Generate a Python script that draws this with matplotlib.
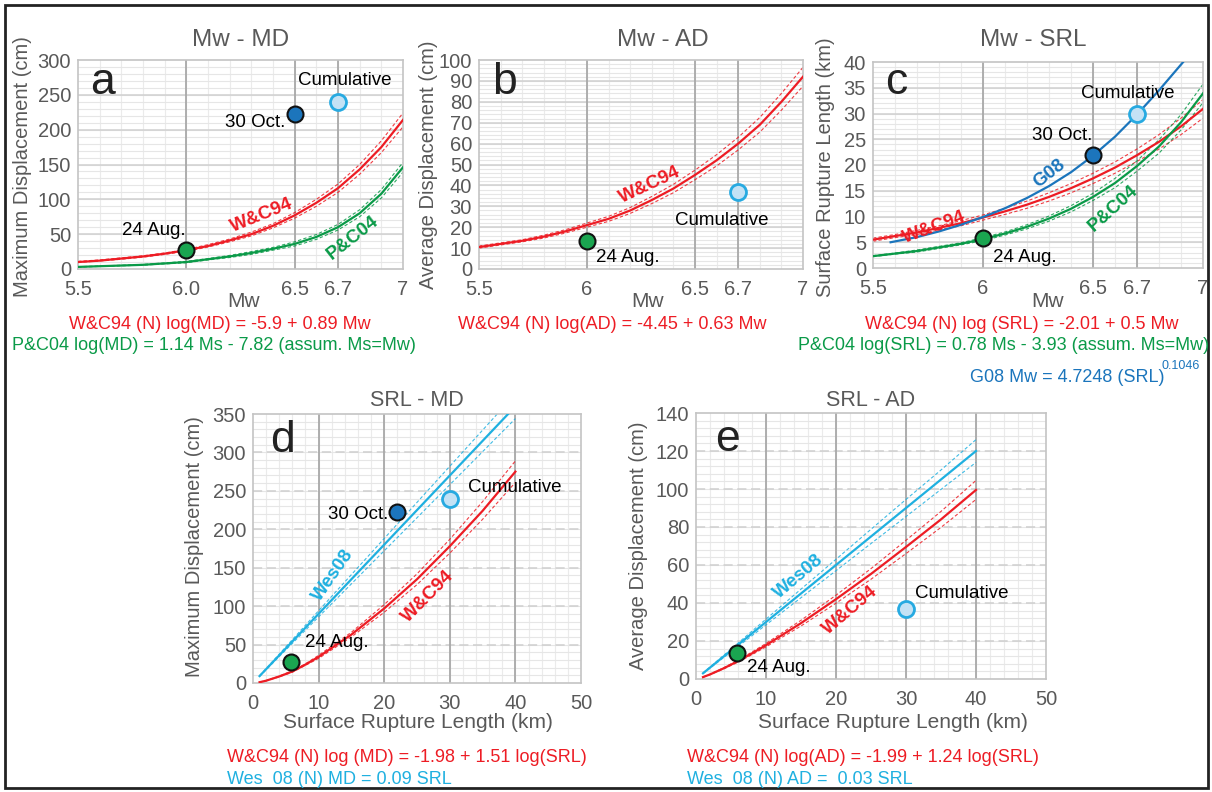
import matplotlib
matplotlib.use('Agg')
import matplotlib.pyplot as plt
import numpy as np
from matplotlib.patches import Rectangle

plt.rcParams['font.family'] = ['Liberation Sans', 'DejaVu Sans']

W, H = 1212, 792

# ---------------- datos ----------------
mw = [5.5, 5.6, 5.7, 5.8, 5.9, 6.0, 6.1, 6.2, 6.3, 6.4, 6.5, 6.6, 6.7, 6.8, 6.9, 7.0]
mw_ticks = [5.5, 6.0, 6.5, 6.7, 7.0]

# a) Mw - MD (cm)
a_wc94 = [10, 12, 15, 18, 22, 27, 33, 41, 50, 62, 77, 95, 116, 143, 175, 214]
a_wc94_hi = [11, 13, 16, 19, 23, 28, 35, 43, 53, 65, 81, 100, 122, 150, 184, 224]
a_wc94_lo = [9.5, 11.5, 14, 17, 21, 25.5, 31.5, 39, 47.5, 59, 73, 90, 110, 136, 167, 204]
a_pc04 = [3, 4, 5, 6, 8, 10, 14, 18, 23, 29, 36, 46, 60, 80, 108, 146]
a_pc04_hi = [3.3, 4.3, 5.4, 6.6, 8.7, 11, 15, 19.5, 25, 31, 39, 49.5, 64, 85, 114, 153]
a_pc04_lo = [2.7, 3.7, 4.6, 5.5, 7.3, 9, 13, 16.5, 21, 27, 33, 42.5, 56, 75, 102, 139]

# b) Mw - AD (cm)
b_wc94 = [10.5, 12, 13.5, 15.5, 18, 21, 24, 28, 33, 38.5, 45, 52, 60, 69, 80, 92]
b_wc94_hi = [11, 12.5, 14, 16.2, 18.8, 22, 25.2, 29.4, 34.7, 40.5, 47.3, 54.7, 63, 72.5, 84, 96.5]
b_wc94_lo = [10, 11.5, 13, 14.8, 17.2, 20, 22.8, 26.6, 31.3, 36.5, 42.7, 49.3, 57, 65.5, 76, 87.5]

# c) Mw - SRL (km)
c_wc94 = [5.5, 6.2, 6.9, 7.8, 8.7, 9.8, 11.0, 12.3, 13.8, 15.5, 17.4, 19.5, 21.9, 24.5, 27.5, 30.9]
c_wc94_hi = [5.8, 6.5, 7.3, 8.2, 9.2, 10.3, 11.6, 13.0, 14.6, 16.4, 18.4, 20.6, 23.1, 25.9, 29.1, 32.7]
c_wc94_lo = [5.2, 5.9, 6.5, 7.4, 8.2, 9.3, 10.4, 11.6, 13.0, 14.6, 16.4, 18.4, 20.7, 23.1, 25.9, 29.1]
c_pc04 = [2.3, 2.8, 3.3, 4.0, 4.7, 5.6, 6.7, 8.0, 9.6, 11.5, 13.8, 16.5, 19.8, 23.6, 28.3, 33.9]
c_pc04_hi = [2.4, 2.9, 3.5, 4.2, 4.9, 5.9, 7.0, 8.4, 10.1, 12.1, 14.5, 17.4, 20.8, 24.9, 29.8, 35.7]
c_pc04_lo = [2.2, 2.7, 3.1, 3.8, 4.5, 5.3, 6.4, 7.6, 9.1, 10.9, 13.1, 15.6, 18.8, 22.3, 26.8, 32.1]
g08_mw = [5.58, 5.7, 5.8, 5.9, 6.0, 6.1, 6.2, 6.3, 6.4, 6.5, 6.6, 6.7, 6.8, 6.91]
g08_srl = [5.0, 6.0, 7.1, 8.4, 9.9, 11.6, 13.6, 15.9, 18.6, 21.8, 25.5, 29.8, 34.5, 40.0]

# d) SRL - MD (cm) y e) SRL - AD (cm)
srl = [1, 2, 4, 6, 8, 10, 15, 20, 25, 30, 35, 40]
d_wc94 = [1, 3, 8.5, 15, 24, 34, 63, 97, 135, 178, 224, 275]
d_wc94_hi = [1.1, 3.2, 9, 16, 25, 36, 66, 102, 142, 187, 236, 289]
d_wc94_lo = [0.9, 2.8, 8, 14, 23, 32, 60, 92, 128, 169, 213, 261]
wes_srl = [1, 5, 10, 15, 20, 25, 30, 35, 39]
wes_srl_b = [1, 5, 10, 15, 20, 25, 30, 35, 40]
d_wes = [9, 45, 90, 135, 180, 225, 270, 315, 351]
d_wes_hi = [9.4, 47, 94, 141, 188, 235, 282, 329, 376]
d_wes_lo = [8.6, 43, 86, 129, 172, 215, 258, 301, 344]

e_wc94 = [1.0, 2.4, 5.7, 9.4, 13.5, 17.8, 29.4, 42, 55.3, 69.5, 84, 99.5]
e_wc94_hi = [1.05, 2.5, 6.0, 9.9, 14.2, 18.7, 30.9, 44.1, 58.1, 73, 88.2, 104.5]
e_wc94_lo = [0.95, 2.3, 5.4, 8.9, 12.8, 16.9, 27.9, 39.9, 52.5, 66, 79.8, 94.5]
e_wes = [3, 15, 30, 45, 60, 75, 90, 105, 120]
e_wes_hi = [3.15, 15.75, 31.5, 47.3, 63, 78.8, 94.5, 110, 126]
e_wes_lo = [2.85, 14.25, 28.5, 42.8, 57, 71.3, 85.5, 99.8, 114]

# eventos
eventos = ['24 Aug.', '30 Oct.', 'Cumulative']
ev_mw = [6.0, 6.5, 6.7]
ev_md = [27, 222, 240]
ev_ad = [13.5, np.nan, 37]
ev_srl = [5.8, 22, 30]

# ---------------- estilos ----------------
ROJO = '#ed1c24'
VERDE = '#0a9a48'
AZUL = '#1b75bc'
CIAN = '#1fb0e0'
GRIS = '#595959'
ev_fill = ['#1aa550', '#1c75bc', '#c4e2f5']
ev_edge = ['#111111', '#111111', '#27aae1']
ev_lw = [1.5, 1.5, 2.0]
TS = 14.5  # tamaño de los ticks
AS = 13.5  # anotaciones


def px_axes(l, r, t, b):
    return [l / W, 1 - b / H, (r - l) / W, (b - t) / H]


def ftext(x, y, s, **kw):
    kw.setdefault('ha', 'center')
    kw.setdefault('va', 'center')
    return fig.text(x / W, 1 - y / H, s, **kw)


def base(ax, xlim, ylim, xmaj, xmin, ymaj, ymin, xlab, mw_style=True):
    ax.set_xlim(*xlim)
    ax.set_ylim(*ylim)
    ax.set_facecolor('white')
    for x in xmin:
        ax.axvline(x, color='#ebebeb', lw=0.8, zorder=0)
    for y in ymin:
        ax.axhline(y, color='#e6e6e6', lw=0.8, zorder=0)
    for y in ymaj[1:-1]:
        if mw_style:
            ax.axhline(y, color='#d0d0d0', lw=1.1, zorder=0.5)
        else:
            ax.axhline(y, color='#cfcfcf', lw=1.1, ls=(0, (6, 3)), zorder=0.5)
    for x in xmaj[1:-1]:
        ax.axvline(x, color='#a8a8a8', lw=1.3, zorder=0.6)
    ax.set_xticks(xmaj)
    ax.set_xticklabels(xlab)
    ax.set_yticks(ymaj)
    ax.tick_params(length=0, labelsize=TS, colors=GRIS, pad=5)
    ax.tick_params(axis='x', pad=8)
    for s in ax.spines.values():
        s.set_color('#c4c4c4')
        s.set_linewidth(1.2)


def curva(ax, x, y, hi, lo, color):
    ax.plot(x, y, color=color, lw=1.6, zorder=3)
    ax.plot(x, hi, color=color, lw=0.8, ls=(0, (3, 2)), alpha=0.85, zorder=2.5)
    ax.plot(x, lo, color=color, lw=0.8, ls=(0, (3, 2)), alpha=0.85, zorder=2.5)


def puntos(ax, xs, ys):
    for i in range(len(xs)):
        if np.isnan(ys[i]):
            continue
        ax.plot(xs[i], ys[i], 'o', ms=11.5, mfc=ev_fill[i], mec=ev_edge[i],
                mew=ev_lw[i], zorder=6, clip_on=False)


fig = plt.figure(figsize=(W / 100, H / 100), dpi=100)
fig.patches.append(Rectangle((5 / W, 4 / H), 1203 / W, 783 / H, transform=fig.transFigure,
                             fill=False, ec='#222222', lw=2))

mw_min = [round(5.5 + 0.1 * i, 2) for i in range(1, 15)]

# ---- a ----
ax = fig.add_axes(px_axes(78, 403, 60, 269))
base(ax, (5.5, 7), (0, 300), mw_ticks, mw_min, list(range(0, 301, 50)),
     list(range(10, 300, 10)), ['5.5', '6.0', '6.5', '6.7', '7'])
curva(ax, mw, a_wc94, a_wc94_hi, a_wc94_lo, ROJO)
curva(ax, mw, a_pc04, a_pc04_hi, a_pc04_lo, VERDE)
puntos(ax, ev_mw, ev_md)
ax.text(5.555, 268, 'a', fontsize=32, va='center', ha='left', color='#222222')
ax.text(5.85, 55, eventos[0], fontsize=AS, ha='center', va='center')
ax.text(6.455, 211, eventos[1], fontsize=AS, ha='right', va='center')
ax.text(6.73, 270, eventos[2], fontsize=AS, ha='center', va='center')
ax.text(6.35, 77, 'W&C94', fontsize=AS, fontweight='bold', color=ROJO,
        rotation=22, ha='center', va='center')
ax.text(6.77, 44, 'P&C04', fontsize=AS, fontweight='bold', color=VERDE,
        rotation=38, ha='center', va='center')

# ---- b ----
ax = fig.add_axes(px_axes(479, 803, 60, 269))
base(ax, (5.5, 7), (0, 100), mw_ticks, mw_min, list(range(0, 101, 10)),
     list(range(2, 100, 2)), ['5.5', '6', '6.5', '6.7', '7'])
curva(ax, mw, b_wc94, b_wc94_hi, b_wc94_lo, ROJO)
puntos(ax, ev_mw, ev_ad)
ax.text(5.56, 89, 'b', fontsize=32, va='center', ha='left', color='#222222')
ax.text(6.19, 5.7, eventos[0], fontsize=AS, ha='center', va='center')
ax.text(6.625, 23, eventos[2], fontsize=AS, ha='center', va='center')
ax.text(6.29, 40, 'W&C94', fontsize=AS, fontweight='bold', color=ROJO,
        rotation=25, ha='center', va='center')

# ---- c ----
ax = fig.add_axes(px_axes(873, 1203, 62, 268))
base(ax, (5.5, 7), (0, 40), mw_ticks, mw_min, list(range(0, 41, 5)),
     list(range(1, 40, 1)), ['5.5', '6', '6.5', '6.7', '7'])
curva(ax, mw, c_wc94, c_wc94_hi, c_wc94_lo, ROJO)
curva(ax, mw, c_pc04, c_pc04_hi, c_pc04_lo, VERDE)
ax.plot(g08_mw, g08_srl, color=AZUL, lw=1.6, zorder=3)
puntos(ax, ev_mw, ev_srl)
ax.text(5.555, 36, 'c', fontsize=32, va='center', ha='left', color='#222222')
ax.text(6.19, 2.1, eventos[0], fontsize=AS, ha='center', va='center')
ax.text(6.36, 25.8, eventos[1], fontsize=AS, ha='center', va='center')
ax.text(6.66, 33.8, eventos[2], fontsize=AS, ha='center', va='center')
ax.text(5.78, 7.8, 'W&C94', fontsize=AS, fontweight='bold', color=ROJO,
        rotation=20, ha='center', va='center')
ax.text(6.30, 18.4, 'G08', fontsize=AS, fontweight='bold', color=AZUL,
        rotation=38, ha='center', va='center')
ax.text(6.59, 11.6, 'P&C04', fontsize=AS, fontweight='bold', color=VERDE,
        rotation=42, ha='center', va='center')

# ---- d ----
ax = fig.add_axes(px_axes(253, 581, 414, 683))
base(ax, (0, 50), (0, 350), list(range(0, 51, 10)), list(range(2, 50, 2)),
     list(range(0, 351, 50)), list(range(10, 350, 10)),
     [str(v) for v in range(0, 51, 10)], mw_style=False)
curva(ax, srl, d_wc94, d_wc94_hi, d_wc94_lo, ROJO)
ax.plot(wes_srl, d_wes, color=CIAN, lw=1.6, zorder=3)
ax.plot(wes_srl_b, d_wes_hi, color=CIAN, lw=0.8, ls=(0, (3, 2)), alpha=0.85, zorder=2.5)
ax.plot(wes_srl_b, d_wes_lo, color=CIAN, lw=0.8, ls=(0, (3, 2)), alpha=0.85, zorder=2.5)
puntos(ax, ev_srl, ev_md)
ax.text(2.6, 316, 'd', fontsize=32, va='center', ha='left', color='#222222')
ax.text(12.8, 53, eventos[0], fontsize=AS, ha='center', va='center')
ax.text(20.6, 219, eventos[1], fontsize=AS, ha='right', va='center')
ax.text(39.9, 254, eventos[2], fontsize=AS, ha='center', va='center')
ax.text(12.2, 140, 'Wes08', fontsize=AS, fontweight='bold', color=CIAN,
        rotation=55, ha='center', va='center')
ax.text(26.7, 112, 'W&C94', fontsize=AS, fontweight='bold', color=ROJO,
        rotation=45, ha='center', va='center')

# ---- e ----
ax = fig.add_axes(px_axes(696, 1046, 413, 679))
base(ax, (0, 50), (0, 140), list(range(0, 51, 10)), list(range(2, 50, 2)),
     list(range(0, 141, 20)), list(range(4, 140, 4)),
     [str(v) for v in range(0, 51, 10)], mw_style=False)
curva(ax, srl, e_wc94, e_wc94_hi, e_wc94_lo, ROJO)
curva(ax, wes_srl_b, e_wes, e_wes_hi, e_wes_lo, CIAN)
puntos(ax, ev_srl, ev_ad)
ax.text(2.7, 126, 'e', fontsize=32, va='center', ha='left', color='#222222')
ax.text(11.9, 5.8, eventos[0], fontsize=AS, ha='center', va='center')
ax.text(37.9, 45, eventos[2], fontsize=AS, ha='center', va='center')
ax.text(14.6, 54, 'Wes08', fontsize=AS, fontweight='bold', color=CIAN,
        rotation=40, ha='center', va='center')
ax.text(22, 36, 'W&C94', fontsize=AS, fontweight='bold', color=ROJO,
        rotation=40, ha='center', va='center')

# ---- títulos y etiquetas ----
for x, y, s, fs in [(241, 40, 'Mw - MD', 17.5), (663, 40, 'Mw - AD', 17.5),
                    (1033, 40, 'Mw - SRL', 17.5), (417, 400, 'SRL - MD', 15.5),
                    (871, 400, 'SRL - AD', 15.5)]:
    ftext(x, y, s, fontsize=fs, color=GRIS)

for x, y, s in [(23, 167, 'Maximum Displacement (cm)'), (428, 165, 'Average Displacement (cm)'),
                (825, 167, 'Surface Rupture Length (km)'), (195, 547, 'Maximum Displacement (cm)'),
                (638, 546, 'Average Displacement (cm)')]:
    ftext(x, y, s, fontsize=14.5, color=GRIS, rotation=90)

for x, y, s in [(244, 302, 'Mw'), (648, 302, 'Mw'), (1048, 302, 'Mw'),
                (418, 723, 'Surface Rupture Length (km)'), (893, 723, 'Surface Rupture Length (km)')]:
    ftext(x, y, s, fontsize=15, color=GRIS)

FS = 13
ftext(220, 324, 'W&C94 (N) log(MD) = -5.9 + 0.89 Mw', fontsize=FS, color=ROJO)
ftext(214, 346, 'P&C04 log(MD) = 1.14 Ms - 7.82 (assum. Ms=Mw)', fontsize=FS, color=VERDE)
ftext(612, 324, 'W&C94 (N) log(AD) = -4.45 + 0.63 Mw', fontsize=FS, color=ROJO)
ftext(1022, 324, 'W&C94 (N) log (SRL) = -2.01 + 0.5 Mw', fontsize=FS, color=ROJO)
ftext(1004, 346, 'P&C04 log(SRL) = 0.78 Ms - 3.93 (assum. Ms=Mw)', fontsize=FS, color=VERDE)
ftext(1164, 377, 'G08 Mw = 4.7248 (SRL)', fontsize=FS, color=AZUL, ha='right')
ftext(1162, 366, '0.1046', fontsize=9, color=AZUL, ha='left')
ftext(227, 757, 'W&C94 (N) log (MD) = -1.98 + 1.51 log(SRL)', fontsize=FS, color=ROJO, ha='left')
ftext(227, 779, 'Wes  08 (N) MD = 0.09 SRL', fontsize=FS, color=CIAN, ha='left')
ftext(687, 757, 'W&C94 (N) log(AD) = -1.99 + 1.24 log(SRL)', fontsize=FS, color=ROJO, ha='left')
ftext(687, 779, 'Wes  08 (N) AD =  0.03 SRL', fontsize=FS, color=CIAN, ha='left')

fig.savefig('out.png', dpi=100)
